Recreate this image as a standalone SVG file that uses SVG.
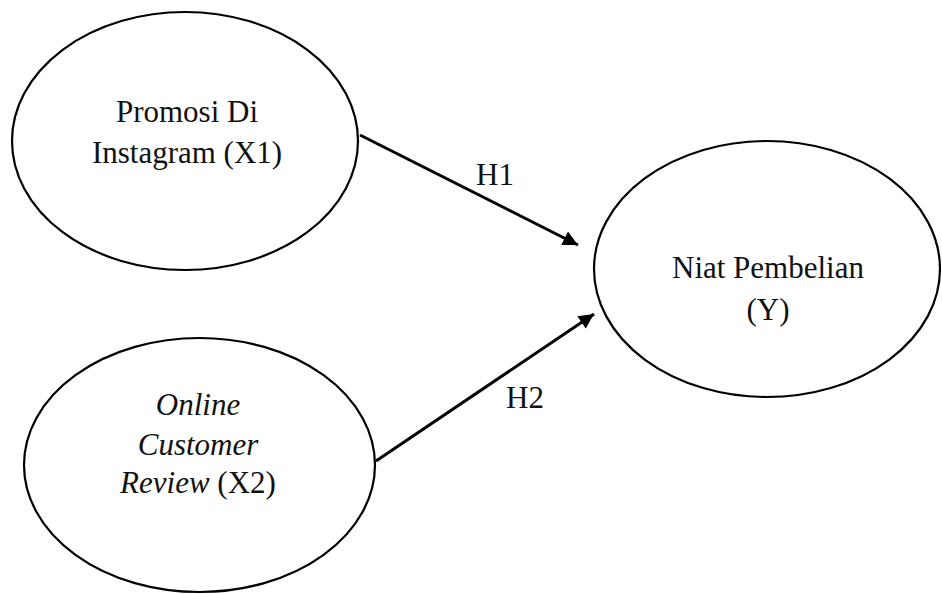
<svg xmlns="http://www.w3.org/2000/svg" width="942" height="594" viewBox="0 0 942 594">
<style>
.node{fill:#fff;stroke:#000;stroke-width:2.2}
.t{font-family:"Liberation Serif","Times New Roman",serif;font-size:31px;fill:#111;text-anchor:middle}
.l{font-family:"Liberation Serif","Times New Roman",serif;font-size:31px;fill:#111;text-anchor:middle}
.c{stroke:#000;stroke-width:3;fill:none}
</style>
<defs>
<marker id="ah" viewBox="0 0 10 10" refX="10" refY="5" markerWidth="6" markerHeight="5" markerUnits="strokeWidth" orient="auto">
<path d="M0,0 L10,5 L0,10 z" fill="#000"/>
</marker>
</defs>
<rect width="942" height="594" fill="#fff"/>
<g id="x1">
<ellipse class="node" cx="185" cy="141" rx="173" ry="129"/>
<text class="t" x="187" y="122">Promosi Di</text>
<text class="t" x="187" y="163">Instagram (X1)</text>
</g>
<g id="x2">
<ellipse class="node" cx="199.5" cy="465" rx="175.5" ry="127"/>
<text class="t" x="198" y="415" font-style="italic">Online</text>
<text class="t" x="198" y="455" font-style="italic">Customer</text>
<text class="t" x="198" y="493"><tspan font-style="italic">Review</tspan> (X2)</text>
</g>
<g id="y">
<ellipse class="node" cx="767" cy="269" rx="173" ry="128"/>
<text class="t" x="768" y="278">Niat Pembelian</text>
<text class="t" x="768" y="320">(Y)</text>
</g>
<g id="connectors">
<line class="c" x1="360" y1="135" x2="578" y2="245" marker-end="url(#ah)"/>
<line class="c" x1="376" y1="461" x2="594" y2="314" marker-end="url(#ah)"/>
<text class="l" x="495" y="185">H1</text>
<text class="l" x="525" y="408">H2</text>
</g>
</svg>
